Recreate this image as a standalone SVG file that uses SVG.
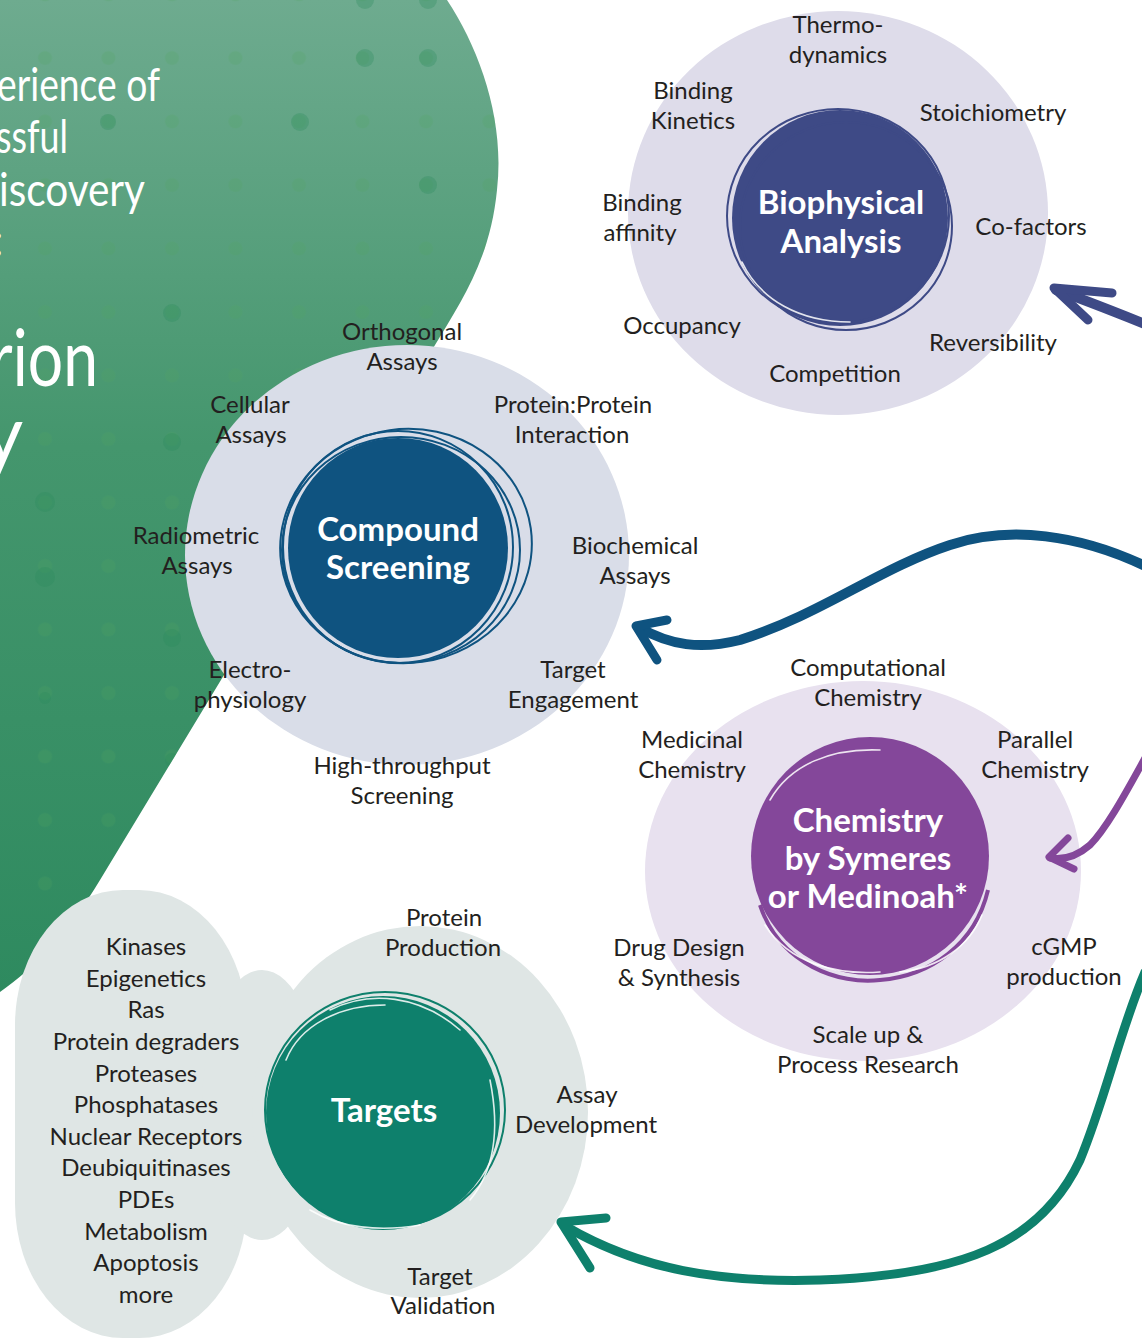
<svg xmlns="http://www.w3.org/2000/svg" width="1142" height="1340" viewBox="0 0 1142 1340">
<defs>
<style>
.lbl{font-family:Lato,"Liberation Sans",sans-serif;font-size:24px;fill:#231f20;text-anchor:middle}
.ttl{font-family:Lato,"Liberation Sans",sans-serif;font-size:33px;font-weight:700;fill:#ffffff;text-anchor:middle}
.hero{font-family:Lato,"Liberation Sans",sans-serif;fill:#ffffff}
.ring{fill:none;stroke-width:2}
.wline{fill:none;stroke:#ffffff;stroke-width:1.6;stroke-linecap:round;opacity:.85}
.arrow{fill:none;stroke-linecap:round;stroke-linejoin:round}
.dk{fill:#2a8a5c;opacity:.3}
</style>
<linearGradient id="gGreen" x1="0" y1="0" x2="0" y2="1">
<stop offset="0" stop-color="#6eab8f"/>
<stop offset="0.45" stop-color="#44966d"/>
<stop offset="1" stop-color="#2e8a5f"/>
</linearGradient>
<pattern id="dots" patternUnits="userSpaceOnUse" x="13" y="26" width="63.5" height="63.5">
<circle cx="32" cy="32" r="7" fill="#52a35e" opacity="0.22"/>
</pattern>
<clipPath id="gclip"><path d="M0,0 L447,0 C480,50 505,120 497,190 C490,260 462,300 432,350 L227,670 L100,880 C70,930 35,968 0,992 Z"/></clipPath>
</defs>

<g id="background">
<path d="M0,0 L447,0 C480,50 505,120 497,190 C490,260 462,300 432,350 L227,670 L100,880 C70,930 35,968 0,992 Z" fill="url(#gGreen)"/>
<path d="M0,0 L447,0 C480,50 505,120 497,190 C490,260 462,300 432,350 L227,670 L100,880 C70,930 35,968 0,992 Z" fill="url(#dots)"/>
<g clip-path="url(#gclip)">
<circle class="dk" cx="365" cy="0" r="9"/><circle class="dk" cx="428" cy="0" r="9"/>
<circle class="dk" cx="365" cy="58" r="9"/><circle class="dk" cx="428" cy="58" r="9"/>
<circle class="dk" cx="108" cy="122" r="8"/><circle class="dk" cx="300" cy="122" r="9"/>
<circle class="dk" cx="428" cy="185" r="9"/>
<circle class="dk" cx="172" cy="313" r="9"/><circle class="dk" cx="172" cy="442" r="9"/>
<circle class="dk" cx="45" cy="502" r="10"/><circle class="dk" cx="45" cy="577" r="10"/>
<circle class="dk" cx="172" cy="638" r="9"/><circle class="dk" cx="45" cy="698" r="6"/>
<circle class="dk" cx="172" cy="760" r="7"/>
</g>
<text class="hero" x="-3" y="101" font-size="46" textLength="163" lengthAdjust="spacingAndGlyphs">erience of</text>
<text class="hero" x="-4" y="153" font-size="46" textLength="72" lengthAdjust="spacingAndGlyphs">ssful</text>
<text class="hero" x="-1" y="206" font-size="46" textLength="146" lengthAdjust="spacingAndGlyphs">iscovery</text>
<text class="hero" x="-8" y="256" font-size="46">:</text>
<text class="hero" x="-10" y="386" font-size="80" textLength="108" lengthAdjust="spacingAndGlyphs">rion</text>
<text class="hero" x="-18" y="462" font-size="80">y</text>
</g>

<g id="node-biophysical">
<ellipse cx="838" cy="213" rx="210" ry="202" fill="#dedcea"/>
<circle cx="840" cy="218" r="108" fill="#3e4a86"/>
<ellipse class="ring" cx="846" cy="226" rx="106" ry="104" stroke="#3e4a86"/>
<ellipse class="ring" cx="838" cy="216" rx="111" ry="107" stroke="#3e4a86" stroke-width="1.2"/>
<path class="wline" d="M742,262 C760,300 800,322 850,322" opacity=".6"/>
<text class="ttl" x="841" y="214">Biophysical</text>
<text class="ttl" x="841" y="253">Analysis</text>
<text class="lbl" x="838" y="33">Thermo-<tspan x="838" dy="30">dynamics</tspan></text>
<text class="lbl" x="693" y="99">Binding<tspan x="693" dy="30">Kinetics</tspan></text>
<text class="lbl" x="993" y="121">Stoichiometry</text>
<text class="lbl" x="642" y="211">Binding<tspan x="640" dy="30">affinity</tspan></text>
<text class="lbl" x="1031" y="235">Co-factors</text>
<text class="lbl" x="682" y="334">Occupancy</text>
<text class="lbl" x="993" y="351">Reversibility</text>
<text class="lbl" x="835" y="382">Competition</text>
</g>

<g id="node-compound">
<ellipse cx="407" cy="555" rx="222" ry="210" fill="#d9dde8"/>
<circle cx="398" cy="548" r="110" fill="#0f5380"/>
<ellipse class="ring" cx="406" cy="546" rx="126" ry="117" stroke="#0f5380" transform="rotate(-8 406 546)"/>
<ellipse class="ring" cx="401" cy="550" rx="119" ry="113" stroke="#0f5380" stroke-width="1.5"/>
<ellipse class="ring" cx="398" cy="547" rx="115" ry="116" stroke="#0f5380" stroke-width="1.5"/>
<text class="ttl" x="398" y="541">Compound</text>
<text class="ttl" x="398" y="579">Screening</text>
<text class="lbl" x="402" y="340">Orthogonal<tspan x="402" dy="30">Assays</tspan></text>
<text class="lbl" x="250" y="413">Cellular<tspan x="251" dy="30">Assays</tspan></text>
<text class="lbl" x="573" y="413">Protein:Protein<tspan x="572" dy="30">Interaction</tspan></text>
<text class="lbl" x="196" y="544">Radiometric<tspan x="197" dy="30">Assays</tspan></text>
<text class="lbl" x="635" y="554">Biochemical<tspan x="635" dy="30">Assays</tspan></text>
<text class="lbl" x="250" y="678">Electro-<tspan x="250" dy="30">physiology</tspan></text>
<text class="lbl" x="573" y="678">Target<tspan x="573" dy="30">Engagement</tspan></text>
<text class="lbl" x="402" y="774">High-throughput<tspan x="402" dy="30">Screening</tspan></text>
</g>

<g id="node-chemistry">
<ellipse cx="863" cy="871" rx="218" ry="190" fill="#e8e1ef"/>
<circle cx="870" cy="856" r="119" fill="#84479a"/>
<path d="M760,905 C780,965 840,985 880,980 C930,976 975,945 988,890" fill="none" stroke="#84479a" stroke-width="4"/>
<path class="wline" d="M770,800 C790,765 830,748 880,750" />
<path class="wline" d="M765,925 C790,965 840,975 880,972"/>
<path class="wline" d="M900,972 C940,968 970,945 982,915"/>
<text class="ttl" x="868" y="832" font-size="32">Chemistry</text>
<text class="ttl" x="868" y="870" font-size="32">by Symeres</text>
<text class="ttl" x="868" y="908" font-size="32">or Medinoah*</text>
<text class="lbl" x="868" y="676">Computational<tspan x="868" dy="30">Chemistry</tspan></text>
<text class="lbl" x="692" y="748">Medicinal<tspan x="692" dy="30">Chemistry</tspan></text>
<text class="lbl" x="1035" y="748">Parallel<tspan x="1035" dy="30">Chemistry</tspan></text>
<text class="lbl" x="679" y="956">Drug Design<tspan x="679" dy="30">&amp; Synthesis</tspan></text>
<text class="lbl" x="1064" y="955">cGMP<tspan x="1064" dy="30">production</tspan></text>
<text class="lbl" x="868" y="1043">Scale up &amp;<tspan x="868" dy="30">Process Research</tspan></text>
</g>

<g id="node-targets">
<rect x="15" y="890" width="232" height="448" rx="108" ry="135" fill="#dfe6e5"/>
<ellipse cx="262" cy="1105" rx="60" ry="135" fill="#dfe6e5"/>
<ellipse cx="420" cy="1112" rx="168" ry="186" fill="#dfe6e5"/>
<circle cx="383" cy="1113" r="117" fill="#0e806c"/>
<ellipse class="ring" cx="385" cy="1110" rx="120" ry="118" stroke="#0e806c" stroke-width="4"/>
<path class="wline" d="M286,1060 C300,1025 340,1005 385,1005"/>
<path class="wline" d="M330,1010 C370,990 420,995 460,1030"/>
<path class="wline" d="M490,1080 C500,1130 495,1170 470,1200"/>
<path class="wline" d="M310,1210 C340,1228 380,1232 420,1225"/>
<text class="ttl" x="384" y="1122" font-size="31">Targets</text>
<text class="lbl" x="444" y="926">Protein<tspan x="443" dy="30">Production</tspan></text>
<text class="lbl" x="587" y="1103">Assay<tspan x="586" dy="30">Development</tspan></text>
<text class="lbl" x="440" y="1285">Target<tspan x="443" dy="29">Validation</tspan></text>
<text class="lbl" x="146" y="955">Kinases</text>
<text class="lbl" x="146" y="987">Epigenetics</text>
<text class="lbl" x="146" y="1018">Ras</text>
<text class="lbl" x="146" y="1050">Protein degraders</text>
<text class="lbl" x="146" y="1082">Proteases</text>
<text class="lbl" x="146" y="1113">Phosphatases</text>
<text class="lbl" x="146" y="1145">Nuclear Receptors</text>
<text class="lbl" x="146" y="1176">Deubiquitinases</text>
<text class="lbl" x="146" y="1208">PDEs</text>
<text class="lbl" x="146" y="1240">Metabolism</text>
<text class="lbl" x="146" y="1271">Apoptosis</text>
<text class="lbl" x="146" y="1303">more</text>
</g>

<g id="connectors">
<path class="arrow" d="M1145,324 C1110,310 1080,298 1056,290" stroke="#3e4a86" stroke-width="10"/>
<path class="arrow" d="M1112,293 L1054,288 L1088,320" stroke="#3e4a86" stroke-width="9"/>
<path class="arrow" d="M1145,566 C1080,535 1010,525 950,545 C880,568 820,615 740,640 C700,650 670,645 640,628" stroke="#0f5380" stroke-width="10"/>
<path class="arrow" d="M667,620 L636,626 L657,660" stroke="#0f5380" stroke-width="9"/>
<path class="arrow" d="M1145,758 C1122,800 1105,830 1090,845 C1075,858 1062,860 1050,858" stroke="#84479a" stroke-width="7"/>
<path class="arrow" d="M1068,838 L1049,857 L1074,869" stroke="#84479a" stroke-width="7"/>
<path class="arrow" d="M1145,972 C1120,1030 1105,1100 1080,1160 C1040,1245 960,1275 820,1280 C720,1283 640,1270 565,1226" stroke="#0e806c" stroke-width="9"/>
<path class="arrow" d="M606,1218 L561,1222 L590,1268" stroke="#0e806c" stroke-width="9"/>
</g>
</svg>
